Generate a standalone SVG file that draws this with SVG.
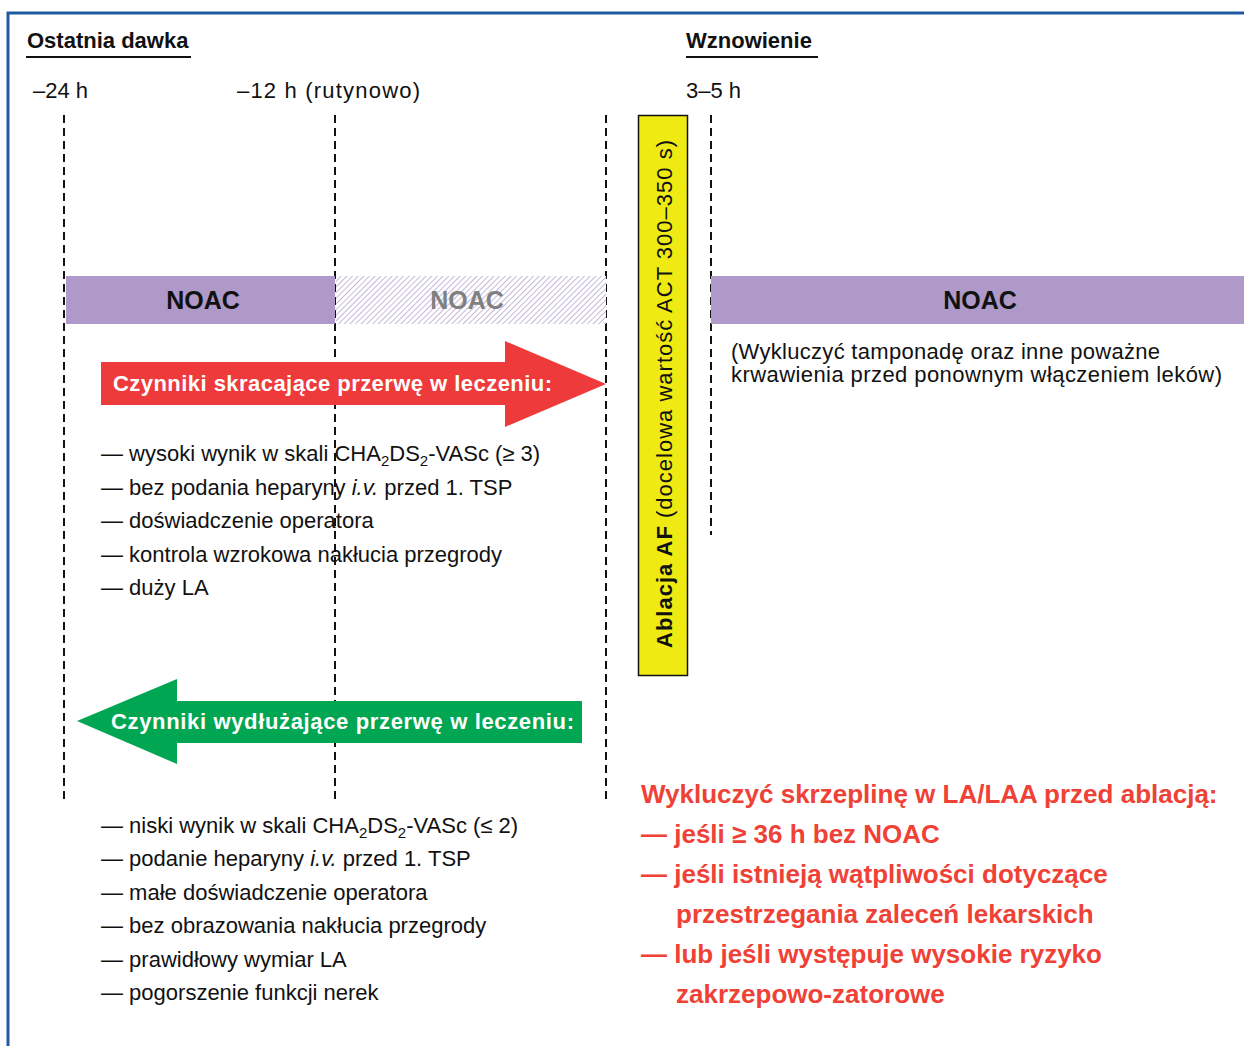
<svg xmlns="http://www.w3.org/2000/svg" width="1244" height="1046" viewBox="0 0 1244 1046">
<defs>
<style>
.t{font-family:"Liberation Sans","Noto Sans",Arial,sans-serif;font-size:22px;fill:#111}
.b{font-weight:bold}
.dash{stroke:#111;stroke-width:2;stroke-dasharray:8,5;fill:none}
.noac{font-family:"Liberation Sans",Arial,sans-serif;font-weight:bold;font-size:25px;text-anchor:middle}
.red{font-family:"Liberation Sans",Arial,sans-serif;font-weight:bold;font-size:26px;fill:#ef4136}
.wt{font-family:"Liberation Sans",Arial,sans-serif;font-weight:bold;font-size:22px;fill:#fff}
</style>
<pattern id="hatch" patternUnits="userSpaceOnUse" width="4" height="4" patternTransform="rotate(45)">
<rect width="4" height="4" fill="#fff"/>
<line x1="0" y1="0" x2="0" y2="4" stroke="#c4b8da" stroke-width="2"/>
</pattern>
</defs>
<rect width="1244" height="1046" fill="#fff"/>
<g id="frame">
<path d="M8,1046 V13 H1244" fill="none" stroke="#1f5aa0" stroke-width="3"/>
</g>
<g id="headers">
<text class="t b" x="27" y="48">Ostatnia dawka</text>
<line x1="26" y1="57" x2="191" y2="57" stroke="#111" stroke-width="2"/>
<text class="t b" x="686" y="48">Wznowienie</text>
<line x1="686" y1="57" x2="818" y2="57" stroke="#111" stroke-width="2"/>
<text class="t" x="33" y="98">–24 h</text>
<text class="t" x="237" y="98" textLength="183">–12 h (rutynowo)</text>
<text class="t" x="686" y="98">3–5 h</text>
</g>
<g id="connectors">
<line class="dash" x1="64" y1="115" x2="64" y2="800"/>
<line class="dash" x1="335" y1="115" x2="335" y2="800"/>
<line class="dash" x1="606" y1="115" x2="606" y2="800"/>
<line class="dash" x1="711" y1="115" x2="711" y2="535"/>
</g>
<g id="noac-left">
<rect x="66" y="276" width="269" height="48" fill="#ae99c8"/>
<text class="noac" x="203" y="309" fill="#111">NOAC</text>
</g>
<g id="noac-hatched">
<rect x="336" y="276" width="270" height="48" fill="url(#hatch)"/>
<text class="noac" x="467" y="309" fill="#808080">NOAC</text>
</g>
<g id="noac-right">
<rect x="711" y="276" width="533" height="48" fill="#ae99c8"/>
<text class="noac" x="980" y="309" fill="#111">NOAC</text>
<text class="t" x="731" y="359" textLength="429">(Wykluczyć tamponadę oraz inne poważne</text>
<text class="t" x="731" y="382" textLength="491">krwawienia przed ponownym włączeniem leków)</text>
</g>
<g id="ablation">
<rect x="638.5" y="115.5" width="49" height="560" fill="#eeea12" stroke="#111" stroke-width="1.5"/>
<text class="t" transform="translate(672,394) rotate(-90)" text-anchor="middle" font-size="25" textLength="508"><tspan font-weight="bold">Ablacja AF</tspan> (docelowa wartość ACT 300–350 s)</text>
</g>
<g id="arrow-shorten">
<polygon points="101,362 505,362 505,341 606,384 505,427 505,405 101,405" fill="#ee3a3a"/>
<text class="wt" x="113" y="391" textLength="439">Czynniki skracające przerwę w leczeniu:</text>
</g>
<g id="list-shorten">
<text class="t" x="101" y="461">— wysoki wynik w skali CHA<tspan font-size="15" dy="5">2</tspan><tspan dy="-5">DS</tspan><tspan font-size="15" dy="5">2</tspan><tspan dy="-5">-VASc (≥ 3)</tspan></text>
<text class="t" x="101" y="495">— bez podania heparyny <tspan font-style="italic">i.v.</tspan> przed 1. TSP</text>
<text class="t" x="101" y="528">— doświadczenie operatora</text>
<text class="t" x="101" y="562">— kontrola wzrokowa nakłucia przegrody</text>
<text class="t" x="101" y="595">— duży LA</text>
</g>
<g id="arrow-lengthen">
<polygon points="77,721 177,679 177,701 582,701 582,743 177,743 177,764" fill="#00a651"/>
<text class="wt" x="111" y="729" textLength="463">Czynniki wydłużające przerwę w leczeniu:</text>
</g>
<g id="list-lengthen">
<text class="t" x="101" y="833">— niski wynik w skali CHA<tspan font-size="15" dy="5">2</tspan><tspan dy="-5">DS</tspan><tspan font-size="15" dy="5">2</tspan><tspan dy="-5">-VASc (≤ 2)</tspan></text>
<text class="t" x="101" y="866">— podanie heparyny <tspan font-style="italic">i.v.</tspan> przed 1. TSP</text>
<text class="t" x="101" y="900">— małe doświadczenie operatora</text>
<text class="t" x="101" y="933">— bez obrazowania nakłucia przegrody</text>
<text class="t" x="101" y="967">— prawidłowy wymiar LA</text>
<text class="t" x="101" y="1000">— pogorszenie funkcji nerek</text>
</g>
<g id="thrombus-note">
<text class="red" x="641" y="803">Wykluczyć skrzeplinę w LA/LAA przed ablacją:</text>
<text class="red" x="641" y="843">— jeśli ≥ 36 h bez NOAC</text>
<text class="red" x="641" y="883">— jeśli istnieją wątpliwości dotyczące</text>
<text class="red" x="676" y="923">przestrzegania zaleceń lekarskich</text>
<text class="red" x="641" y="963">— lub jeśli występuje wysokie ryzyko</text>
<text class="red" x="676" y="1003">zakrzepowo-zatorowe</text>
</g>
</svg>
